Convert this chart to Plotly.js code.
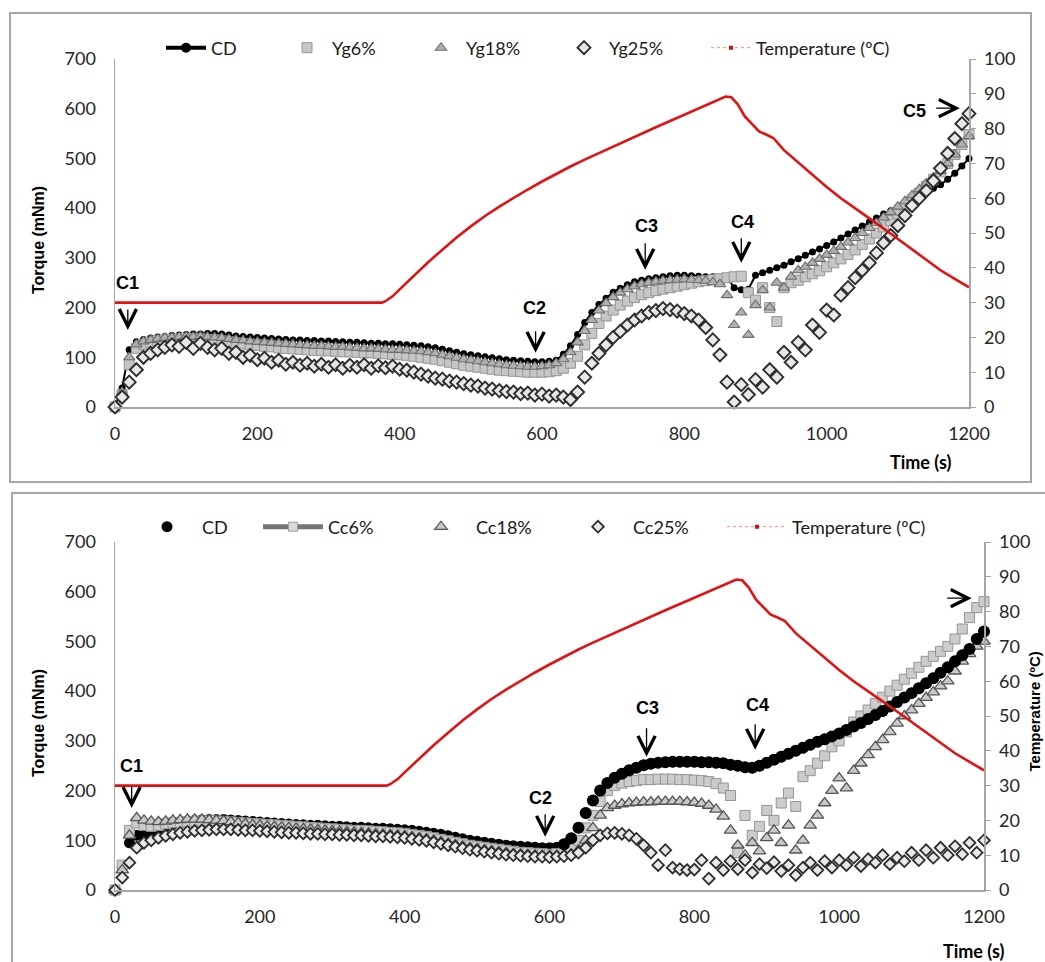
<!DOCTYPE html>
<html><head><meta charset="utf-8">
<script src="https://cdn.plot.ly/plotly-3.0.1.min.js"></script>
<style>html,body{margin:0;padding:0;background:#fff;overflow:hidden}#chart{width:1045px;height:962px}</style>
</head><body><div id="chart"></div>
<script>
// ---------- data ----------
const time = [0,10,20,30,40,50,60,70,80,90,
100,110,120,130,140,150,160,170,180,190,
200,210,220,230,240,250,260,270,280,290,
300,310,320,330,340,350,360,370,380,390,
400,410,420,430,440,450,460,470,480,490,
500,510,520,530,540,550,560,570,580,590,
600,610,620,630,640,650,660,670,680,690,
700,710,720,730,740,750,760,770,780,790,
800,810,820,830,840,850,860,870,880,890,
900,910,920,930,940,950,960,970,980,990,
1000,1010,1020,1030,1040,1050,1060,1070,1080,1090,
1100,1110,1120,1130,1140,1150,1160,1170,1180,1190,
1200];

// Top panel (Yg)
const ygCD = [0,38,115,131,136,139,141,142,144,145,
146,147,147,148,148,147,145,143,142,141,
140,139,138,137,136,135,135,134,134,133,
133,132,131,130,130,129,128,128,127,127,
126,125,124,123,121,119,116,113,110,107,
105,103,101,99,97,95,94,93,92,91,
91,92,94,106,123,146,170,190,206,219,
231,239,246,252,255,258,260,262,264,265,
265,264,263,262,262,261,261,240,236,237,
265,270,275,280,285,292,298,305,312,318,
325,332,340,348,356,364,372,380,388,395,
402,410,418,425,432,440,447,458,470,485,
500];
const yg6 = [0,25,85,118,126,130,133,135,136,137,
138,137,137,136,135,133,131,129,127,125,
124,122,121,119,118,117,116,115,114,113,
113,112,111,111,110,109,109,108,107,106,
105,104,102,100,98,96,93,90,87,84,
82,80,78,76,74,73,72,71,70,70,
70,71,73,78,88,102,125,148,168,183,
195,205,213,220,226,230,234,237,240,243,
246,249,252,254,256,258,260,262,263,230,
215,240,200,172,240,250,255,262,268,274,
282,290,298,307,316,327,338,350,362,375,
388,402,416,430,444,458,473,490,508,528,
548];
const yg18 = [2,30,100,126,132,135,137,139,140,141,
142,141,142,141,140,139,137,135,134,132,
131,130,129,128,127,126,125,124,123,123,
122,121,121,120,119,118,118,117,116,115,
115,114,113,112,110,108,105,102,99,96,
94,92,90,88,86,84,83,82,81,81,
82,84,88,96,110,130,153,175,194,209,
221,230,237,243,247,250,252,254,255,256,
257,256,255,254,251,247,225,165,190,145,
205,235,200,250,240,262,275,282,290,298,
306,314,322,331,340,350,360,370,381,392,
403,414,426,438,450,462,475,490,508,528,
545];
const yg25 = [0,20,50,75,100,108,115,120,125,122,
130,118,128,120,115,118,108,110,100,104,
95,98,90,94,86,90,84,88,82,86,
80,85,78,84,80,85,78,83,79,82,
76,74,70,66,62,58,56,52,50,47,
44,42,38,36,33,31,30,27,28,24,
26,22,24,20,15,30,60,88,108,125,
140,152,165,175,183,190,194,198,196,193,
188,183,175,160,135,105,50,10,45,25,
55,40,75,60,110,90,130,115,165,150,
195,185,225,240,260,275,290,310,330,345,
365,385,405,420,435,455,480,510,540,570,
590];

// Bottom panel (Cc)
const ccCD = [0,45,95,110,112,118,124,128,132,136,
138,140,141,142,142,142,141,140,139,138,
137,136,135,134,133,132,131,130,130,129,
128,128,127,126,126,125,124,124,123,122,
121,120,118,116,114,112,109,106,103,100,
98,96,94,92,90,89,88,87,86,85,
85,86,92,104,125,155,180,200,215,226,
234,241,246,251,254,256,257,258,258,258,
258,257,257,256,255,252,250,247,246,250,
256,262,268,274,280,286,292,298,303,309,
315,322,329,336,344,352,360,369,378,387,
396,406,416,426,437,448,460,472,485,505,
520];
const cc6 = [0,50,120,135,130,128,130,133,135,136,
137,138,138,139,139,138,137,136,135,134,
133,132,131,130,129,128,127,126,125,124,
123,122,121,120,120,119,118,117,116,115,
114,112,110,108,105,102,99,96,93,90,
88,86,84,82,80,78,76,75,74,73,
72,73,76,82,100,125,150,178,200,210,
215,218,220,222,222,223,223,223,222,222,
221,220,218,214,205,190,75,150,110,128,
160,140,175,195,168,228,240,255,270,288,
300,318,338,350,362,375,388,400,412,424,
436,448,460,470,480,490,505,525,548,568,
580];
const cc18 = [0,40,110,145,140,138,137,138,140,141,
142,142,142,141,140,139,137,135,133,131,
130,128,127,126,125,124,123,122,121,120,
119,118,117,116,115,114,113,112,111,110,
109,107,105,103,100,97,94,91,88,85,
83,81,79,77,75,73,72,71,70,69,
69,69,70,72,80,100,125,150,165,170,
173,175,176,177,177,178,178,178,178,177,
176,174,170,162,148,120,90,70,95,78,
105,120,95,130,80,100,130,150,175,200,
225,205,240,255,272,288,302,318,335,350,
362,375,387,398,410,420,440,460,475,490,
500];
const cc25 = [0,25,55,85,95,100,105,109,112,115,
117,119,120,121,122,122,122,121,120,120,
119,118,117,116,115,115,114,113,113,112,
112,111,111,110,110,109,108,108,107,106,
105,103,101,99,96,93,90,87,84,81,
79,77,75,73,71,70,69,68,67,67,
66,67,68,70,75,85,100,110,114,115,
113,110,103,90,75,50,80,45,42,40,
41,60,23,55,40,58,42,60,35,52,
44,56,38,50,30,45,55,40,58,45,
60,50,65,48,62,55,70,52,65,58,
75,60,80,65,85,70,88,72,95,75,
100];

// Temperature profile (ºC)
const tempTime = [0,50,100,150,200,250,300,350,375,380,390,400,420,440,460,480,500,520,540,560,580,600,620,640,660,680,700,720,740,760,780,800,820,840,850,858,866,875,885,895,905,915,925,940,960,980,1000,1020,1040,1060,1080,1100,1120,1140,1160,1180,1200];
const tempVal = [30,30,30,30,30,30,30,30,30,30.4,31.8,33.8,37.8,41.6,45.2,48.7,51.9,54.9,57.6,60.1,62.5,64.8,67,69.1,71.1,73,74.9,76.8,78.6,80.4,82.2,84,85.8,87.6,88.5,89.2,89,87,83.5,81.5,79.2,78.3,77.3,73.8,70.3,66.8,63.2,60,57,54.2,51.3,48.3,45.2,42.2,39.3,36.8,34.4];

const topNames = ['CD','Yg6%','Yg18%','Yg25%','Temperature (ºC)'];
const botNames = ['CD','Cc6%','Cc18%','Cc25%','Temperature (ºC)'];
const xTicks = [0,200,400,600,800,1000,1200];

// event labels: label position and arrow tip (time, torque)
const topEvents = [
  {label:'C1', t:17,   v:250, tipT:18,   tipV:155, len:22},
  {label:'C2', t:590,  v:199, tipT:591,  tipV:109, len:23},
  {label:'C3', t:747,  v:364, tipT:745,  tipV:276, len:28},
  {label:'C4', t:882,  v:372, tipT:880,  tipV:290, len:26}
];
const botEvents = [
  {label:'C1', t:23,  v:249, tipT:23,  tipV:165, len:23},
  {label:'C2', t:588, v:185, tipT:594, tipV:107, len:24},
  {label:'C3', t:735, v:366, tipT:734, tipV:268, len:30},
  {label:'C4', t:887, v:373, tipT:884, tipV:282, len:27}
];

// ---------- geometry ----------
const W = 1045, H = 962;
const fx = p => p / W, fy = p => 1 - p / H;

const tickFont = {family:'Lato, "Open Sans", sans-serif', size:18, color:'#262626'};
const legFont = {family:'Lato, "Open Sans", sans-serif', size:18, color:'#1a1a1a'};
const AX = '#a6a6a6';
const RED = 'rgb(226,18,18)';

function xAxis(domain, anchor){
  return {domain, anchor, range:[0,1200], tickvals:xTicks, showline:true, linecolor:AX, linewidth:1.5,
    showgrid:false, zeroline:false, ticks:'', ticklabelstandoff:10, tickfont:tickFont, fixedrange:true};
}
function yLeft(domain, anchor){
  return {domain, anchor, range:[0,700], dtick:100, showline:true, linecolor:AX, linewidth:1.5,
    showgrid:false, zeroline:false, ticks:'', ticklabelstandoff:14, tickfont:tickFont, fixedrange:true};
}
function yRight(over, anchor){
  return {overlaying:over, anchor, side:'right', range:[0,100], dtick:10, showline:true, linecolor:AX, linewidth:1.5,
    showgrid:false, zeroline:false, ticks:'outside', ticklen:5, tickcolor:AX, ticklabelstandoff:5, tickfont:tickFont, fixedrange:true};
}

const sq6 = {symbol:'square', size:10, color:'#c6c6c6', line:{color:'#959595', width:1}};
const tri18 = {symbol:'triangle-up', size:10, color:'#b0b0b0', line:{color:'#6e6e6e', width:1.1}};
const dia25 = {symbol:'diamond', size:10, color:'#e8e8e8', line:{color:'#2e2e2e', width:1.9}};

const traces = [];
// ---- top panel ----
traces.push({x:[null], y:[null], xaxis:'x', yaxis:'y', name:topNames[0], mode:'lines+markers', legend:'legend', legendwidth:66,
  line:{color:'#000', width:4}, marker:{symbol:'circle', size:10, color:'#000'}});
traces.push({x:time, y:ygCD, xaxis:'x', yaxis:'y', name:topNames[0], mode:'lines+markers', showlegend:false, cliponaxis:false,
  line:{color:'#000', width:2}, marker:{symbol:'circle', size:7, color:'#000'}});
traces.push({x:time, y:yg6, xaxis:'x', yaxis:'y', name:topNames[1], mode:'markers', legend:'legend', legendwidth:79, cliponaxis:false, marker:sq6});
traces.push({x:time, y:yg18, xaxis:'x', yaxis:'y', name:topNames[2], mode:'markers', legend:'legend', legendwidth:88, cliponaxis:false, marker:tri18});
traces.push({x:time, y:yg25, xaxis:'x', yaxis:'y', name:topNames[3], mode:'markers', legend:'legend', legendwidth:92, cliponaxis:false, marker:dia25});
traces.push({x:[null], y:[null], xaxis:'x', yaxis:'y2', name:topNames[4], mode:'lines+markers', legend:'legend',
  line:{color:'#f08a8a', width:1, dash:'dot'}, marker:{symbol:'square', size:4, color:'#d01010'}});
traces.push({x:tempTime, y:tempVal, xaxis:'x', yaxis:'y2', name:topNames[4], mode:'lines', showlegend:false,
  line:{color:RED, width:2.6}});

// ---- bottom panel ----
traces.push({x:time, y:ccCD, xaxis:'x2', yaxis:'y3', name:botNames[0], mode:'markers', legend:'legend2', legendwidth:51, cliponaxis:false,
  marker:{symbol:'circle', size:11, color:'#000'}});
traces.push({x:[null], y:[null], xaxis:'x2', yaxis:'y3', name:botNames[1], mode:'lines+markers', legend:'legend2', legendwidth:73,
  line:{color:'#767676', width:5}, marker:{symbol:'square', size:9, color:'#d9d9d9', line:{color:'#9c9c9c', width:1}}});
traces.push({x:time, y:cc6, xaxis:'x2', yaxis:'y3', name:botNames[1], mode:'markers', showlegend:false, cliponaxis:false,
  marker:{symbol:'square', size:10, color:'#cccccc', line:{color:'#959595', width:1}}});
traces.push({x:time, y:cc18, xaxis:'x2', yaxis:'y3', name:botNames[2], mode:'markers', legend:'legend2', legendwidth:82, cliponaxis:false,
  marker:{symbol:'triangle-up', size:11, color:'#c8c8c8', line:{color:'#555555', width:1.3}}});
traces.push({x:time, y:cc25, xaxis:'x2', yaxis:'y3', name:botNames[3], mode:'markers', legend:'legend2', legendwidth:84, cliponaxis:false,
  marker:{symbol:'diamond', size:9, color:'#e8e8e8', line:{color:'#2e2e2e', width:1.8}}});
// CD again on top after the onset of gelatinisation
const fromIdx = time.indexOf(620);
traces.push({x:time.slice(fromIdx), y:ccCD.slice(fromIdx), xaxis:'x2', yaxis:'y3', name:botNames[0], mode:'markers', showlegend:false, cliponaxis:false,
  marker:{symbol:'circle', size:12, color:'#000'}});
traces.push({x:[null], y:[null], xaxis:'x2', yaxis:'y4', name:botNames[4], mode:'lines+markers', legend:'legend2',
  line:{color:'#f08a8a', width:1, dash:'dot'}, marker:{symbol:'square', size:4, color:'#d01010'}});
traces.push({x:tempTime, y:tempVal, xaxis:'x2', yaxis:'y4', name:botNames[4], mode:'lines', showlegend:false,
  line:{color:RED, width:2.6}});

// ---------- annotations ----------
const labFont = {family:'"Liberation Sans", Arial, sans-serif', size:18, color:'#000'};
const ann = [];
function addEvents(list, xr, yr){
  list.forEach(e => {
    ann.push({xref:xr, yref:yr, x:e.t, y:e.v, text:'<b>'+e.label+'</b>', showarrow:false, xanchor:'center', yanchor:'middle', font:labFont});
    ann.push({xref:xr, yref:yr, x:e.tipT, y:e.tipV, text:'', showarrow:true, ax:0, ay:-e.len,
      arrowhead:5, arrowsize:2.6, arrowwidth:1.3, arrowcolor:'#000'});
  });
}
addEvents(topEvents, 'x', 'y');
addEvents(botEvents, 'x2', 'y3');
// C5 and the last horizontal arrows
ann.push({xref:'x', yref:'y', x:1123, y:595, text:'<b>C5</b>', showarrow:false, xanchor:'center', yanchor:'middle', font:labFont});
ann.push({xref:'x', yref:'y', x:1187, y:601, text:'', showarrow:true, ax:-25, ay:0, arrowhead:5, arrowsize:2.6, arrowwidth:1.3, arrowcolor:'#000'});
ann.push({xref:'x2', yref:'y3', x:1183, y:587, text:'', showarrow:true, ax:-26, ay:0, arrowhead:5, arrowsize:2.6, arrowwidth:1.3, arrowcolor:'#000'});

// axis titles
const titleFont = {family:'"Liberation Sans", Arial, sans-serif', size:16, color:'#000'};
const timeFont = {family:'Lato, "Open Sans", sans-serif', size:18, color:'#000'};
function paperText(x, y, text, font, angle){
  return {xref:'paper', yref:'paper', x:fx(x), y:fy(y), xanchor:'center', yanchor:'middle', text, textangle:angle||0, showarrow:false, font};
}
ann.push(paperText(38, 240, '<b>Torque (mNm)</b>', titleFont, -90));
ann.push(paperText(38, 723, '<b>Torque (mNm)</b>', titleFont, -90));
ann.push(paperText(920, 462, '<b>Time (s)</b>', timeFont));
ann.push(paperText(973, 951, '<b>Time (s)</b>', timeFont));
ann.push({xref:'paper', yref:'paper', x:fx(1024), y:fy(712), xanchor:'left', yanchor:'middle', text:'<b>Temperature (ºC)</b>', textangle:-90, showarrow:false,
  borderpad:0, font:{family:'"Liberation Sans", Arial, sans-serif', size:15, color:'#000'}});

// panel frames
const shapes = [
  {type:'rect', xref:'paper', yref:'paper', x0:fx(10), x1:fx(1031), y0:fy(482), y1:fy(13), line:{color:'#a6a6a6', width:2}},
  {type:'rect', xref:'paper', yref:'paper', x0:fx(12), x1:fx(1060), y0:fy(975), y1:fy(493), line:{color:'#a6a6a6', width:2}}
];

const layout = {
  width:W, height:H, autosize:false, margin:{l:0, r:0, t:0, b:0},
  paper_bgcolor:'#fff', plot_bgcolor:'rgba(0,0,0,0)', showlegend:true,
  xaxis: xAxis([fx(115), fx(969)], 'y'),
  yaxis: yLeft([fy(407), fy(59)], 'x'),
  yaxis2: yRight('y', 'x'),
  xaxis2: xAxis([fx(115), fx(984)], 'y3'),
  yaxis3: yLeft([fy(890), fy(542)], 'x2'),
  yaxis4: yRight('y3', 'x2'),
  legend: {x:fx(161), y:fy(48), xanchor:'left', yanchor:'middle', orientation:'h', itemwidth:40,
    font:legFont, bgcolor:'rgba(0,0,0,0)', traceorder:'normal', itemclick:false, itemdoubleclick:false},
  legend2: {x:fx(132), y:fy(527), xanchor:'left', yanchor:'middle', orientation:'h', itemwidth:60,
    font:legFont, bgcolor:'rgba(0,0,0,0)', traceorder:'normal', itemclick:false, itemdoubleclick:false},
  annotations: ann,
  shapes: shapes
};

Plotly.newPlot('chart', traces, layout, {displayModeBar:false, staticPlot:true});
</script>
</body></html>
